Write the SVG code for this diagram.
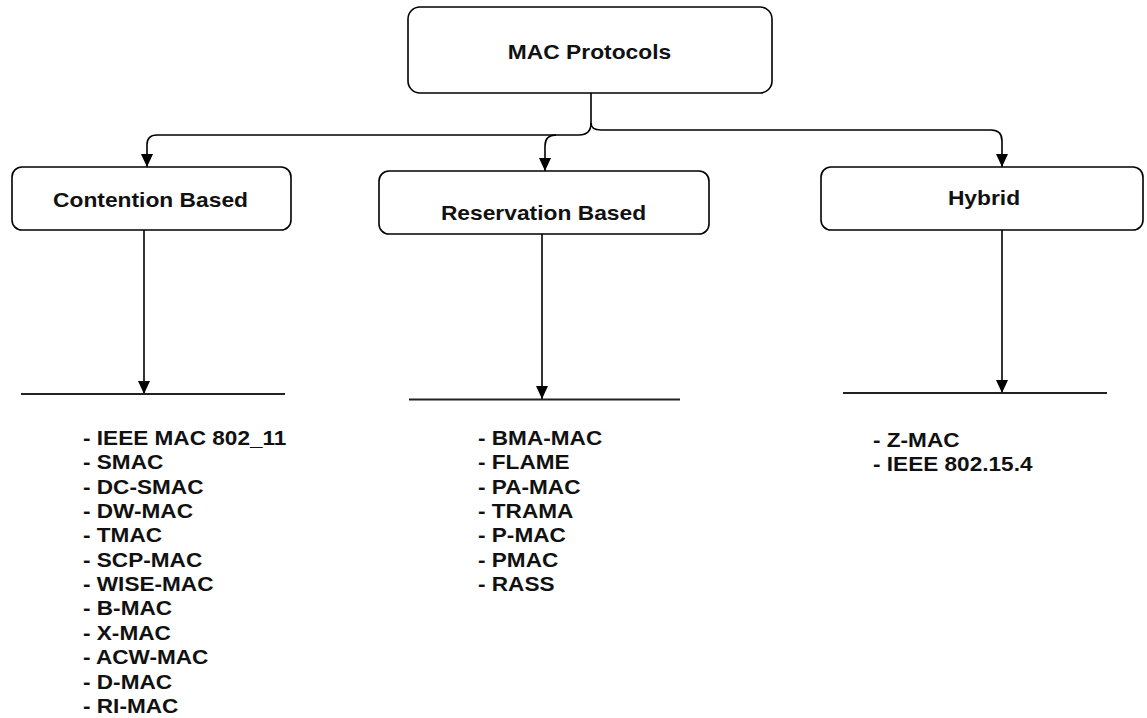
<svg xmlns="http://www.w3.org/2000/svg" width="1147" height="718" viewBox="0 0 1147 718">
  <style>
    .box { fill: #ffffff; stroke: #000000; stroke-width: 1.6; }
    .title { font-family: "Liberation Sans", Arial, sans-serif; font-weight: bold; font-size: 20px; fill: #111111; text-anchor: middle; }
    .item { font-family: "Liberation Sans", Arial, sans-serif; font-weight: bold; font-size: 20px; fill: #111111; }
    .wire { fill: none; stroke: #000000; stroke-width: 1.6; }
    .rule { fill: none; stroke: #222222; stroke-width: 1.8; }
  </style>
  <defs>
    <marker id="tip" markerUnits="userSpaceOnUse" markerWidth="12" markerHeight="14" viewBox="0 0 12 14" refX="6" refY="13" orient="0">
      <path d="M0,0 L12,0 L6,13 Z" fill="#000000"/>
    </marker>
  </defs>
  <rect width="1147" height="718" fill="#ffffff"/>

  <!-- connectors -->
  <g id="connectors">
    <path class="wire" d="M591,93 V123 Q591,135 579,135 H157 Q147,135 147,145 V167" marker-end="url(#tip)"/>
    <path class="wire" d="M556,135 Q545,135 545,146 V171" marker-end="url(#tip)"/>
    <path class="wire" d="M591,123 Q591,130 601,130 H991 Q1002,130 1002,141 V167" marker-end="url(#tip)"/>
    <path class="wire" d="M144,230 V394" marker-end="url(#tip)"/>
    <path class="wire" d="M542,234 V399" marker-end="url(#tip)"/>
    <path class="wire" d="M1002,230 V393" marker-end="url(#tip)"/>
    <path class="rule" d="M21,394 H285"/>
    <path class="rule" d="M409,399.5 H680"/>
    <path class="rule" d="M843,393 H1107"/>
  </g>

  <!-- root node -->
  <g id="node-mac-protocols">
    <rect class="box" x="408" y="7" width="364" height="86" rx="12"/>
    <g transform="translate(589.5,59) scale(1.14,1)"><text class="title" x="0" y="0">MAC Protocols</text></g>
  </g>

  <!-- category nodes -->
  <g id="node-contention">
    <rect class="box" x="12" y="167" width="279" height="63" rx="10"/>
    <g transform="translate(150.5,207) scale(1.14,1)"><text class="title" x="0" y="0">Contention Based</text></g>
  </g>
  <g id="node-reservation">
    <rect class="box" x="379" y="171" width="330" height="63" rx="10"/>
    <g transform="translate(543.5,220) scale(1.14,1)"><text class="title" x="0" y="0">Reservation Based</text></g>
  </g>
  <g id="node-hybrid">
    <rect class="box" x="821" y="167" width="322" height="63" rx="10"/>
    <g transform="translate(984,205) scale(1.14,1)"><text class="title" x="0" y="0">Hybrid</text></g>
  </g>

  <!-- protocol lists -->
  <g id="list-contention" transform="translate(83,0) scale(1.13,1)">
    <text class="item" x="0" y="445">- IEEE MAC 802_11</text>
    <text class="item" x="0" y="469.4">- SMAC</text>
    <text class="item" x="0" y="493.7">- DC-SMAC</text>
    <text class="item" x="0" y="518.1">- DW-MAC</text>
    <text class="item" x="0" y="542.4">- TMAC</text>
    <text class="item" x="0" y="566.8">- SCP-MAC</text>
    <text class="item" x="0" y="591.2">- WISE-MAC</text>
    <text class="item" x="0" y="615.5">- B-MAC</text>
    <text class="item" x="0" y="639.9">- X-MAC</text>
    <text class="item" x="0" y="664.2">- ACW-MAC</text>
    <text class="item" x="0" y="688.6">- D-MAC</text>
    <text class="item" x="0" y="713">- RI-MAC</text>
  </g>
  <g id="list-reservation" transform="translate(478,0) scale(1.13,1)">
    <text class="item" x="0" y="445">- BMA-MAC</text>
    <text class="item" x="0" y="469.3">- FLAME</text>
    <text class="item" x="0" y="493.7">- PA-MAC</text>
    <text class="item" x="0" y="518">- TRAMA</text>
    <text class="item" x="0" y="542.3">- P-MAC</text>
    <text class="item" x="0" y="566.7">- PMAC</text>
    <text class="item" x="0" y="591">- RASS</text>
  </g>
  <g id="list-hybrid" transform="translate(873,0) scale(1.13,1)">
    <text class="item" x="0" y="447">- Z-MAC</text>
    <text class="item" x="0" y="471">- IEEE 802.15.4</text>
  </g>
</svg>
